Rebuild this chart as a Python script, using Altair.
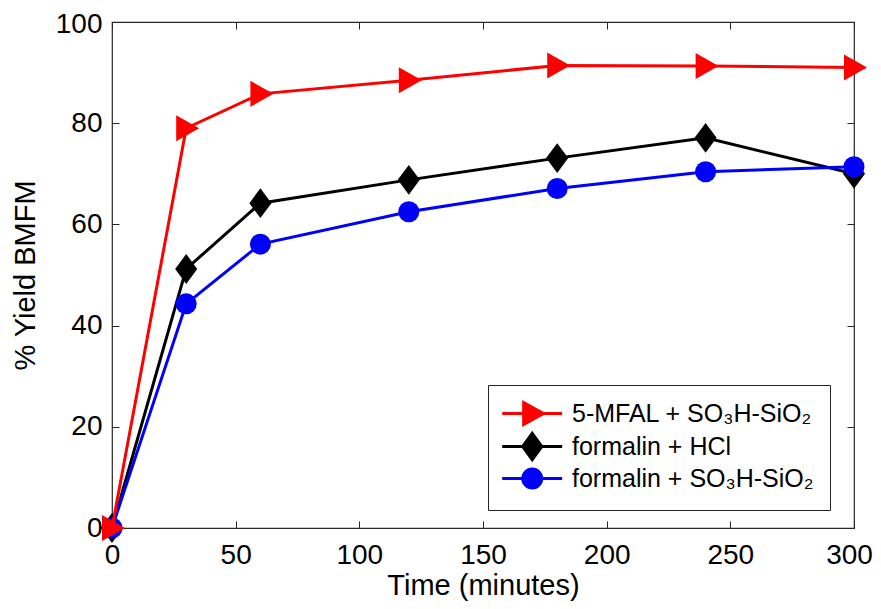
import altair as alt
import pandas as pd

# ---- data ----
time_min = [0, 30, 60, 120, 180, 240, 300]
mfal_so3h = [0, 79.0, 85.8, 88.5, 91.4, 91.3, 91.0]
formalin_hcl = [0, 51.2, 64.2, 68.8, 73.1, 77.1, 70.0]
formalin_so3h = [0, 44.3, 56.1, 62.5, 67.1, 70.4, 71.4]

series_names = ["5-MFAL + SO₃H-SiO₂", "formalin + HCl", "formalin + SO₃H-SiO₂"]
series_colors = ["#FF0000", "#000000", "#0000FF"]
x_ticks = [0, 50, 100, 150, 200, 250, 300]
y_ticks = [0, 20, 40, 60, 80, 100]

rows = []
for name, vals in zip(series_names, [mfal_so3h, formalin_hcl, formalin_so3h]):
    for t, v in zip(time_min, vals):
        rows.append({"time": t, "yield": v, "series": name})
df = pd.DataFrame(rows)

FONT = "Liberation Sans"
xscale = alt.Scale(domain=[0, 300], nice=False, zero=False)
yscale = alt.Scale(domain=[0, 100], nice=False, zero=False)

# marker shapes (plot)
tri_path = "M-0.87,-1.13L1.13,0L-0.87,1.13Z"
dia_path = "M0,-1.3L0.96,0L0,1.3L-0.96,0Z"
marker_shapes = {series_names[0]: (tri_path, 529), series_names[1]: (dia_path, 529), series_names[2]: ("circle", 441)}

# legend symbols: a line with the marker in its middle
leg_paths = [
    "M-1.3,0L4.15,0M0.65,-1.0L2.45,0L0.65,1.0Z",
    "M-1.3,0L4.15,0M1.43,-1.2L2.3,0L1.43,1.2L0.56,0Z",
    "M-1.3,0L4.15,0M0.57,0A0.86,0.86 0 1,0 2.29,0A0.86,0.86 0 1,0 0.57,0Z",
]

def xy(axis_x, axis_y):
    return dict(
        x=alt.X("time:Q", scale=xscale, axis=axis_x),
        y=alt.Y("yield:Q", scale=yscale, axis=axis_y),
    )

lab = dict(labelFont=FONT, labelFontSize=28, labelColor="black",
           titleFont=FONT, titleFontSize=29, titleFontWeight="normal", titleColor="black",
           tickColor="#262626", tickWidth=1, labelOverlap=False, labelFlush=False, labelBound=False)

axis_bottom = alt.Axis(orient="bottom", values=x_ticks, format="d", title="Time (minutes)",
                       domain=False, tickSize=7, offset=-7, labelPadding=13, titlePadding=2,
                       labelOffset={"condition": {"test": "datum.value === 300", "value": -5}, "value": 0},
                       grid=False, **lab)
axis_left = alt.Axis(orient="left", values=y_ticks, format="d", title="% Yield BMFM",
                     domain=False, tickSize=7, offset=-7, labelPadding=10, titlePadding=15,
                     labelOffset={"condition": {"test": "datum.value === 100", "value": 2}, "value": 0},
                     grid=False, **lab)
axis_top = alt.Axis(orient="top", values=x_ticks, labels=False, title=None, domain=False,
                    tickSize=7, offset=-7, grid=False, tickColor="#262626")
axis_right = alt.Axis(orient="right", values=y_ticks, labels=False, title=None, domain=False,
                      tickSize=7, offset=-7, grid=False, tickColor="#262626")

order = [1, 2, 0]  # black, blue, red (red drawn on top)
layers = []
first = True
for i in order:
    name = series_names[i]
    col = series_colors[i]
    shape, size = marker_shapes[name]
    sub = alt.Chart(df).transform_filter(alt.datum.series == name)
    if first:
        enc_line = xy(axis_bottom, axis_left)
        enc_pt = xy(axis_top, axis_right)
        first = False
    else:
        enc_line = xy(None, None)
        enc_pt = xy(None, None)
    layers.append(sub.mark_line(color=col, strokeWidth=3).encode(**enc_line))
    layers.append(sub.mark_point(shape=shape, size=size, filled=True, color=col, opacity=1).encode(**enc_pt))

color_scale = alt.Scale(domain=series_names, range=series_colors)
leg = alt.Legend(title=None, orient="none", legendX=376, legendY=363,
                 symbolSize=484, symbolStrokeWidth=3, labelOffset=43,
                 labelFont=FONT, labelFontSize=25, labelColor="black", labelLimit=500,
                 padding=16, rowPadding=-4, strokeColor="#262626", fillColor="white",
                 symbolOpacity=1)
legend_layer = alt.Chart(df).transform_filter("datum.time < 0").mark_point(filled=True).encode(
    shape=alt.Shape("series:N", scale=alt.Scale(domain=series_names, range=leg_paths), legend=leg),
    fill=alt.Fill("series:N", scale=color_scale, legend=leg),
    stroke=alt.Stroke("series:N", scale=color_scale, legend=leg),
)
layers.append(legend_layer)

chart = alt.layer(*layers).resolve_axis(x="independent", y="independent").properties(
    width=742, height=506,
    padding={"left": 104, "top": 14, "right": 19, "bottom": 73},
    autosize="none",
    background="white",
).configure_view(stroke="#262626", strokeWidth=1.2)

chart.save("out.html", embed_options={"renderer": "svg", "actions": False})
